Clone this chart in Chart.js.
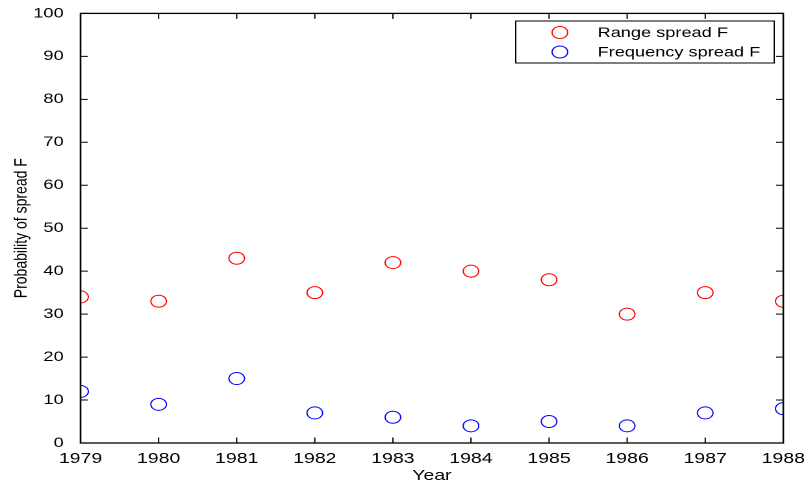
<!DOCTYPE html>
<html><head><meta charset="utf-8">
<style>
html,body{margin:0;padding:0;background:#fff;overflow:hidden}
#wrap{width:622px;height:486px;transform:scaleX(1.2990);transform-origin:0 0}
canvas{display:block}
</style>
<script src="https://cdn.jsdelivr.net/npm/chart.js@4/dist/chart.umd.min.js"></script>
</head><body>
<div id="wrap"><canvas id="c" width="622" height="486"></canvas></div>
<script>
const years = [1979,1980,1981,1982,1983,1984,1985,1986,1987,1988];
const rangeSpreadF = [34,33,43,35,42,40,38,30,35,33];
const frequencySpreadF = [12,9,15,7,6,4,5,4,7,8];
const seriesLabels = ['Range spread F','Frequency spread F'];
const seriesColors = ['#ff0000','#0000ff'];
const xTitle = 'Year';
const yTitle = 'Probability of spread F';

const FONT = "'Liberation Sans', Arial, Helvetica, sans-serif";

const boxAndTicks = {
  id:'boxAndTicks',
  afterDraw(chart){
    const {ctx, chartArea:a, scales} = chart;
    ctx.save();
    ctx.strokeStyle = '#000';
    ctx.lineWidth = 1.3;
    ctx.strokeRect(a.left, a.top, a.right - a.left, a.bottom - a.top);
    ctx.lineWidth = 1;
    const tl = 5.5;
    ctx.beginPath();
    scales.x.ticks.forEach(t => {
      const px = scales.x.getPixelForValue(t.value);
      ctx.moveTo(px, a.bottom); ctx.lineTo(px, a.bottom - tl);
      ctx.moveTo(px, a.top); ctx.lineTo(px, a.top + tl);
    });
    scales.y.ticks.forEach(t => {
      const py = scales.y.getPixelForValue(t.value);
      ctx.moveTo(a.left, py); ctx.lineTo(a.left + tl, py);
      ctx.moveTo(a.right, py); ctx.lineTo(a.right - tl, py);
    });
    ctx.stroke();
    // legend
    const lx = 397, ly = 21, lw = 199, lh = 42;
    ctx.fillStyle = '#fff';
    ctx.fillRect(lx, ly, lw, lh);
    ctx.lineWidth = 1;
    ctx.strokeRect(lx, ly, lw, lh);
    ctx.font = '14px ' + FONT;
    ctx.textBaseline = 'middle';
    ctx.textAlign = 'left';
    chart.data.datasets.forEach((ds, i) => {
      const cy = ly + 11.5 + i * 19.5;
      ctx.beginPath();
      ctx.strokeStyle = ds.borderColor;
      ctx.lineWidth = 1;
      ctx.arc(431, cy, 6, 0, Math.PI * 2);
      ctx.stroke();
      ctx.fillStyle = '#000';
      ctx.fillText(ds.label, 460, cy + 0.5);
    });
    ctx.restore();
  }
};

const mk = (vals) => years.map((y, i) => ({x: y, y: vals[i]}));

new Chart(document.getElementById('c'), {
  type: 'scatter',
  data: {
    datasets: [
      {label: seriesLabels[0], data: mk(rangeSpreadF), borderColor: seriesColors[0], backgroundColor: 'rgba(0,0,0,0)', pointRadius: 6, pointBorderWidth: 1, pointStyle: 'circle'},
      {label: seriesLabels[1], data: mk(frequencySpreadF), borderColor: seriesColors[1], backgroundColor: 'rgba(0,0,0,0)', pointRadius: 6, pointBorderWidth: 1, pointStyle: 'circle'}
    ]
  },
  options: {
    responsive: false,
    animation: false,
    devicePixelRatio: 2,
    layout: {padding: {top: 13, right: 19, left: 0, bottom: 0}},
    plugins: {legend: {display: false}, tooltip: {enabled: false}},
    scales: {
      x: {
        type: 'linear', min: years[0], max: years[years.length - 1],
        grid: {display: false}, border: {display: false},
        ticks: {stepSize: 1, color: '#000', font: {family: FONT, size: 15}, padding: -1, maxRotation: 0,
          callback: v => String(v)},
        title: {display: true, text: xTitle, color: '#000', font: {family: FONT, size: 15}, padding: {top: 0, bottom: 1}},
        afterFit: s => { s.height = 43; }
      },
      y: {
        min: 0, max: 100,
        grid: {display: false}, border: {display: false},
        ticks: {stepSize: 10, color: '#000', font: {family: FONT, size: 14}, padding: 5},
        title: {display: true, text: yTitle, color: '#000', font: {family: FONT, size: 14}, padding: {top: 8, bottom: 0}},
        afterFit: s => { s.width = 62; }
      }
    }
  },
  plugins: [boxAndTicks]
});
</script>
</body></html>
